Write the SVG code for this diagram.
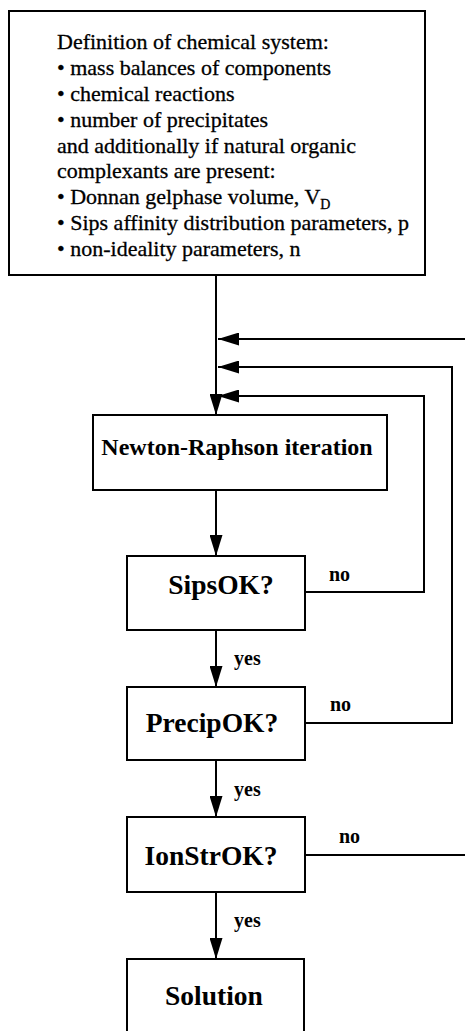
<svg xmlns="http://www.w3.org/2000/svg" width="465" height="1031" viewBox="0 0 465 1031">
<style>
.box{fill:#fff;stroke:#000;stroke-width:2}
.ln{fill:none;stroke:#000;stroke-width:2}
.body{font-family:"Liberation Serif","Times New Roman",serif;font-size:22px;fill:#000;stroke:#000;stroke-width:0.3}
.title{font-family:"Liberation Serif","Times New Roman",serif;font-weight:bold;fill:#000;text-anchor:middle}
.lbl{font-family:"Liberation Serif","Times New Roman",serif;font-weight:bold;font-size:20px;fill:#000}
</style>
<defs>
<marker id="ah" markerUnits="userSpaceOnUse" markerWidth="22" markerHeight="13" refX="21" refY="6.5" orient="auto">
<path d="M0,0 L21,6.5 L0,13 Z" fill="#000"/>
</marker>
</defs>
<rect width="465" height="1031" fill="#fff"/>
<g id="connectors">
<path class="ln" d="M216,275 V415" marker-end="url(#ah)"/>
<path class="ln" d="M465,339 H218" marker-end="url(#ah)"/>
<path class="ln" d="M305,723 H452 V367 H218" marker-end="url(#ah)"/>
<path class="ln" d="M305,592 H424 V396 H218" marker-end="url(#ah)"/>
<path class="ln" d="M305,855 H465"/>
<path class="ln" d="M216,490 V556" marker-end="url(#ah)"/>
<path class="ln" d="M216,630 V687" marker-end="url(#ah)"/>
<path class="ln" d="M216,760 V817" marker-end="url(#ah)"/>
<path class="ln" d="M216,892 V959" marker-end="url(#ah)"/>
<text class="lbl" x="329" y="581">no</text>
<text class="lbl" x="330" y="711">no</text>
<text class="lbl" x="339" y="843">no</text>
<text class="lbl" x="234" y="665">yes</text>
<text class="lbl" x="234" y="796">yes</text>
<text class="lbl" x="234" y="927">yes</text>
</g>
<g id="definition">
<rect class="box" x="9" y="11" width="416" height="264"/>
<text class="body" x="57" y="49">Definition of chemical system:</text>
<text class="body" x="57" y="75">• mass balances of components</text>
<text class="body" x="57" y="101">• chemical reactions</text>
<text class="body" x="57" y="127">• number of precipitates</text>
<text class="body" x="57" y="152.5">and additionally if natural organic</text>
<text class="body" x="57" y="178">complexants are present:</text>
<text class="body" x="57" y="204">• Donnan gelphase volume, V<tspan font-size="14" dy="5">D</tspan></text>
<text class="body" x="57" y="230">• Sips affinity distribution parameters, p</text>
<text class="body" x="57" y="256">• non-ideality parameters, n</text>
</g>
<g id="newton">
<rect class="box" x="93" y="415" width="294" height="75"/>
<text class="title" x="237" y="455" font-size="24">Newton-Raphson iteration</text>
</g>
<g id="sipsok">
<rect class="box" x="127" y="556" width="178" height="74"/>
<text class="title" x="221" y="594" font-size="27.5">SipsOK?</text>
</g>
<g id="precipok">
<rect class="box" x="127" y="687" width="178" height="73"/>
<text class="title" x="212" y="732" font-size="27.5">PrecipOK?</text>
</g>
<g id="ionstrok">
<rect class="box" x="127" y="817" width="178" height="75"/>
<text class="title" x="211" y="865" font-size="27.5">IonStrOK?</text>
</g>
<g id="solution">
<rect class="box" x="127" y="959" width="177" height="90"/>
<text class="title" x="214" y="1005" font-size="27.5">Solution</text>
</g>
</svg>
